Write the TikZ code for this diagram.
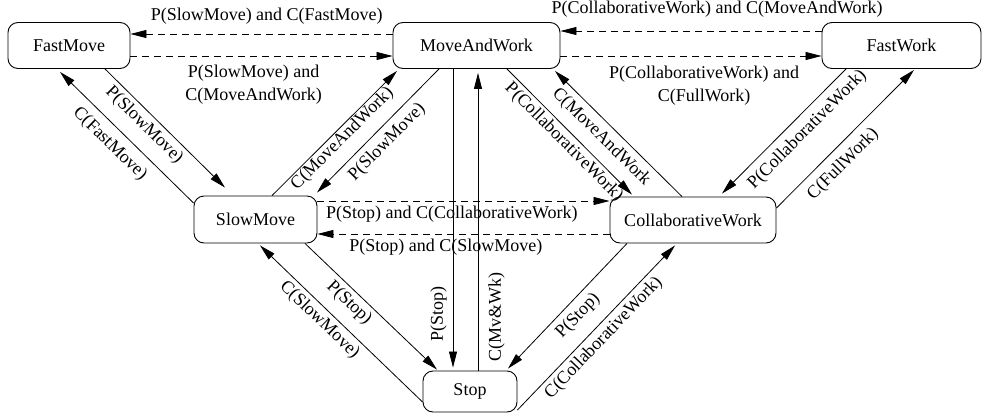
\documentclass[tikz,border=0pt]{standalone}
\usepackage{fontspec}
\setmainfont{Liberation Serif}
\usetikzlibrary{arrows.meta}
\begin{document}
\begin{tikzpicture}[x=1pt,y=-1pt,
        state/.style={draw,rounded corners=10pt,line width=0.9pt,minimum height=46pt,inner sep=0pt,font=\fontsize{18}{23}\selectfont},
        trans/.style={-{Triangle[length=16pt,width=8pt]},line width=0.8pt},
        dtrans/.style={trans,dash pattern=on 7pt off 5pt},
        lbl/.style={font=\fontsize{18}{23}\selectfont,inner sep=4pt}]
        \useasboundingbox (0,0) rectangle (983,418);

        \node[state,minimum width=122pt] (FastMove) at (69,45.5) {FastMove};
        \node[state,minimum width=167pt] (MoveAndWork) at (476.5,45.5) {MoveAndWork};
        \node[state,minimum width=159pt] (FastWork) at (901.5,45.5) {FastWork};
        \node[state,minimum width=123pt,minimum height=47pt] (SlowMove) at (255.5,219.5) {SlowMove};
        \node[state,minimum width=166pt] (CollabWork) at (693,220) {CollaborativeWork};
        \node[state,minimum width=94pt,minimum height=41pt] (Stop) at (470,391.5) {Stop};

        \draw[dtrans] ([yshift=11.5pt]MoveAndWork.west) -- node[lbl,above,pos=0.48,inner sep=9pt] {P(SlowMove) and C(FastMove)} ([yshift=11.5pt]FastMove.east);
        \draw[dtrans] ([yshift=-10.5pt]FastMove.east) -- node[lbl,below,pos=0.47,align=center,inner sep=9pt] {P(SlowMove) and\\C(MoveAndWork)} ([yshift=-10.5pt]MoveAndWork.west);
        \draw[dtrans] ([yshift=14.5pt]FastWork.west) -- node[lbl,above,pos=0.4,inner sep=13pt] {P(CollaborativeWork) and C(MoveAndWork)} ([yshift=14.5pt]MoveAndWork.east);
        \draw[dtrans] ([yshift=-10.5pt]MoveAndWork.east) -- node[lbl,below,pos=0.55,align=center,inner sep=10pt] {P(CollaborativeWork) and\\C(FullWork)} ([yshift=-10.5pt]FastWork.west);
        \draw[dtrans] ([yshift=18.5pt]SlowMove.east) -- node[lbl,below,pos=0.46,inner sep=5pt] {P(Stop) and C(CollaborativeWork)} ([yshift=19pt]CollabWork.west);
        \draw[dtrans] ([yshift=-14pt]CollabWork.west) -- node[lbl,below,pos=0.56,inner sep=5pt] {P(Stop) and C(SlowMove)} ([yshift=-14.5pt]SlowMove.east);

        \draw[trans] ([xshift=36pt]FastMove.south) -- node[lbl,sloped,below,pos=0.4] {P(SlowMove)} ([xshift=-30.5pt,yshift=8pt]SlowMove.north);
        \draw[trans] ([yshift=16.5pt]SlowMove.west) -- node[lbl,sloped,below,pos=0.54,inner sep=8pt] {C(FastMove)} ([xshift=-9pt,yshift=-3pt]FastMove.south);
        \draw[trans] ([xshift=16.5pt]SlowMove.north) -- node[lbl,sloped,below,pos=0.51,inner sep=1pt] {C(MoveAndWork)} ([xshift=-79.5pt,yshift=-2pt]MoveAndWork.south);
        \draw[trans] ([xshift=-37.5pt]MoveAndWork.south) -- node[lbl,sloped,below,pos=0.51,inner sep=6pt] {P(SlowMove)} ([xshift=61.5pt,yshift=3pt]SlowMove.north);
        \draw[trans] ([xshift=-23.5pt]MoveAndWork.south) -- node[lbl,rotate=90,anchor=south,pos=0.82,inner sep=6pt] {P(Stop)} ([xshift=-17pt,yshift=3pt]Stop.north);
        \draw[trans] ([xshift=8pt]Stop.north) -- node[lbl,rotate=90,anchor=north,pos=0.18,inner sep=10pt] {C(Mv\&Wk)} ([xshift=1.5pt,yshift=-4pt]MoveAndWork.south);
        \draw[trans] ([xshift=30.5pt]MoveAndWork.south) -- node[lbl,sloped,below,pos=0.52,inner sep=3pt] {P(CollaborativeWork)} ([xshift=-61pt,yshift=2pt]CollabWork.north);
        \draw[trans] ([xshift=-11pt]CollabWork.north) -- node[lbl,sloped,below,pos=0.555,inner sep=6pt] {C(MoveAndWork} ([xshift=78.5pt,yshift=-2pt]MoveAndWork.south);
        \draw[trans] ([xshift=-55.5pt]FastWork.south) -- node[lbl,sloped,below,pos=0.4,inner sep=7pt] {P(CollaborativeWork)} ([xshift=29pt,yshift=3pt]CollabWork.north);
        \draw[trans] ([yshift=12pt]CollabWork.east) -- node[lbl,sloped,below,pos=0.4,inner sep=8pt] {C(FullWork)} ([xshift=12.5pt,yshift=-1pt]FastWork.south);
        \draw[trans] ([xshift=49.5pt]SlowMove.south) -- node[lbl,sloped,below,pos=0.4] {P(Stop)} ([xshift=-33pt,yshift=1pt]Stop.north);
        \draw[trans] ([yshift=-10.5pt]Stop.west) -- node[lbl,sloped,below,pos=0.58] {C(SlowMove)} ([xshift=4.5pt,yshift=-2pt]SlowMove.south);
        \draw[trans] ([xshift=-66pt]CollabWork.south) -- node[lbl,sloped,below,pos=0.5,inner sep=6pt] {P(Stop)} ([xshift=38pt,yshift=2pt]Stop.north);
        \draw[trans] ([yshift=-18.5pt]Stop.east) -- node[lbl,sloped,below,pos=0.49] {C(CollaborativeWork)} ([xshift=-18pt,yshift=-2pt]CollabWork.south);
    \end{tikzpicture}
\end{document}
